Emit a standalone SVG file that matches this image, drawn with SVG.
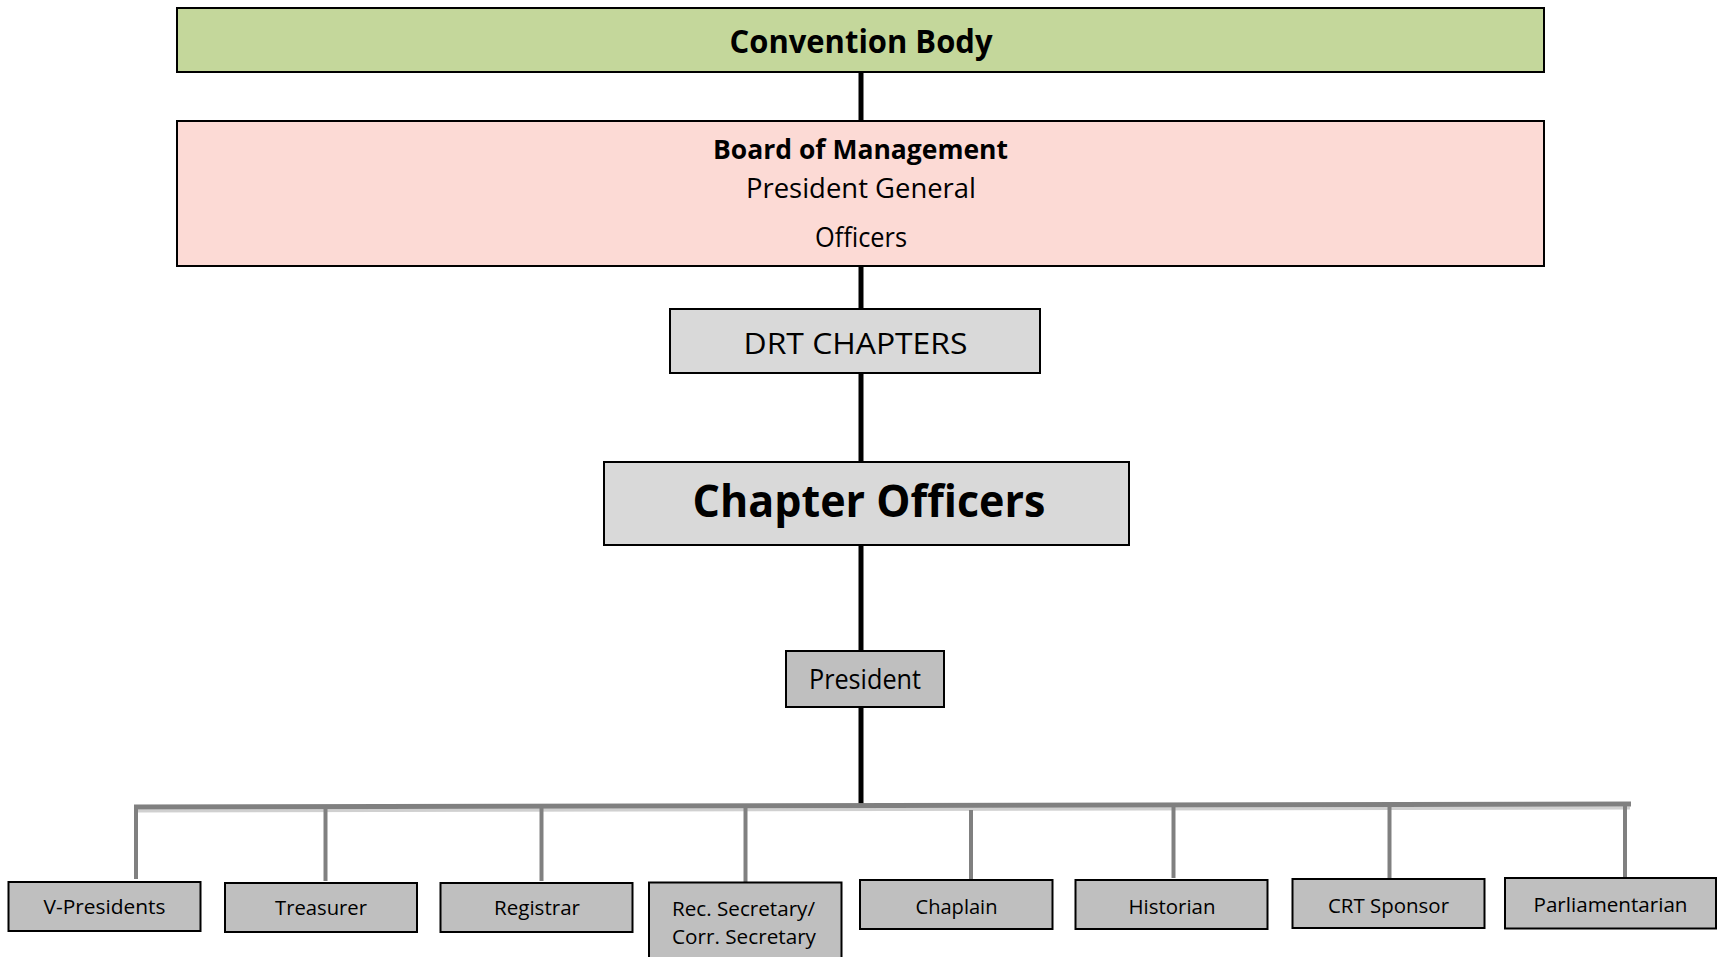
<svg xmlns="http://www.w3.org/2000/svg" width="1723" height="957" viewBox="0 0 1723 957">
<defs>
<style>
.box{stroke:#000;stroke-width:2}
.t{font-family:"Open Sans","Liberation Sans",sans-serif;fill:#000;text-anchor:middle}
.b{font-weight:bold}
.main{stroke:#000;stroke-width:5;fill:none}
.bus{stroke:#808080;stroke-width:5;fill:none}
.drop{stroke:#808080;stroke-width:4;fill:none}
.shadow{stroke:#d0d0d0;stroke-width:3;fill:none}
.gray1{fill:#d9d9d9}
.gray2{fill:#bfbfbf}
.lbl{font-size:20.5px}
</style>
</defs>
<rect width="1723" height="957" fill="#fff"/>
<g id="connectors">
<line class="main" x1="861" y1="72" x2="861" y2="121"/>
<line class="main" x1="861" y1="266" x2="861" y2="309"/>
<line class="main" x1="861" y1="373" x2="861" y2="462"/>
<line class="main" x1="861" y1="545" x2="861" y2="651"/>
<line class="main" x1="861" y1="707" x2="861" y2="806"/>
<line class="shadow" x1="134" y1="811" x2="1630" y2="808"/>
<line class="bus" x1="134" y1="807" x2="1631" y2="804"/>
<line class="drop" x1="136" y1="807" x2="136" y2="879"/>
<line class="drop" x1="325.5" y1="807" x2="325.5" y2="881"/>
<line class="drop" x1="541.5" y1="806" x2="541.5" y2="881"/>
<line class="drop" x1="745.5" y1="806" x2="745.5" y2="882"/>
<line class="drop" x1="971" y1="810" x2="971" y2="879"/>
<line class="drop" x1="1173.5" y1="806" x2="1173.5" y2="878"/>
<line class="drop" x1="1389.5" y1="806" x2="1389.5" y2="878"/>
<line class="drop" x1="1625" y1="806" x2="1625" y2="877"/>
</g>
<g id="convention-body">
<rect class="box" x="177" y="8" width="1367" height="64" fill="#c4d79b"/>
<text class="t b" x="861" y="52.5" font-size="33" textLength="263" lengthAdjust="spacingAndGlyphs">Convention Body</text>
</g>
<g id="board-of-management">
<rect class="box" x="177" y="121" width="1367" height="145" fill="#fcdad5"/>
<text class="t b" x="860.5" y="159" font-size="26" textLength="295" lengthAdjust="spacingAndGlyphs">Board of Management</text>
<text class="t" x="861" y="198" font-size="27" textLength="230" lengthAdjust="spacingAndGlyphs">President General</text>
<text class="t" x="861" y="246.5" font-size="27" textLength="92" lengthAdjust="spacingAndGlyphs">Officers</text>
</g>
<g id="drt-chapters">
<rect class="box gray1" x="670" y="309" width="370" height="64"/>
<text class="t" x="855.5" y="354" font-size="30" textLength="224" lengthAdjust="spacingAndGlyphs">DRT CHAPTERS</text>
</g>
<g id="chapter-officers">
<rect class="box gray1" x="604" y="462" width="525" height="83"/>
<text class="t b" x="869" y="517" font-size="45" textLength="353" lengthAdjust="spacingAndGlyphs">Chapter Officers</text>
</g>
<g id="president">
<rect class="box gray2" x="786" y="651" width="158" height="56"/>
<text class="t" x="865" y="689" font-size="26.5" textLength="112" lengthAdjust="spacingAndGlyphs">President</text>
</g>
<g id="v-presidents">
<rect class="box gray2" x="8.5" y="882" width="192" height="49"/>
<text class="t lbl" x="104.5" y="914" textLength="122" lengthAdjust="spacingAndGlyphs">V-Presidents</text>
</g>
<g id="treasurer">
<rect class="box gray2" x="225" y="883" width="192" height="49"/>
<text class="t lbl" x="321" y="915" textLength="92" lengthAdjust="spacingAndGlyphs">Treasurer</text>
</g>
<g id="registrar">
<rect class="box gray2" x="440.5" y="883" width="192" height="49"/>
<text class="t lbl" x="537" y="915" textLength="86" lengthAdjust="spacingAndGlyphs">Registrar</text>
</g>
<g id="rec-corr-secretary">
<rect class="box gray2" x="649" y="882.5" width="192.5" height="80"/>
<text class="t lbl" x="743.5" y="915.5" textLength="143" lengthAdjust="spacingAndGlyphs">Rec. Secretary/</text>
<text class="t lbl" x="744" y="944" textLength="144" lengthAdjust="spacingAndGlyphs">Corr. Secretary</text>
</g>
<g id="chaplain">
<rect class="box gray2" x="860" y="880" width="192.5" height="49"/>
<text class="t lbl" x="956.5" y="913.5" textLength="82" lengthAdjust="spacingAndGlyphs">Chaplain</text>
</g>
<g id="historian">
<rect class="box gray2" x="1075.5" y="880" width="192" height="49"/>
<text class="t lbl" x="1172" y="913.5" textLength="87" lengthAdjust="spacingAndGlyphs">Historian</text>
</g>
<g id="crt-sponsor">
<rect class="box gray2" x="1292.5" y="879" width="192" height="49"/>
<text class="t lbl" x="1388.5" y="912.5" textLength="121" lengthAdjust="spacingAndGlyphs">CRT Sponsor</text>
</g>
<g id="parliamentarian">
<rect class="box gray2" x="1505" y="878" width="211" height="50.5"/>
<text class="t lbl" x="1610.5" y="911.5" textLength="154" lengthAdjust="spacingAndGlyphs">Parliamentarian</text>
</g>
</svg>
